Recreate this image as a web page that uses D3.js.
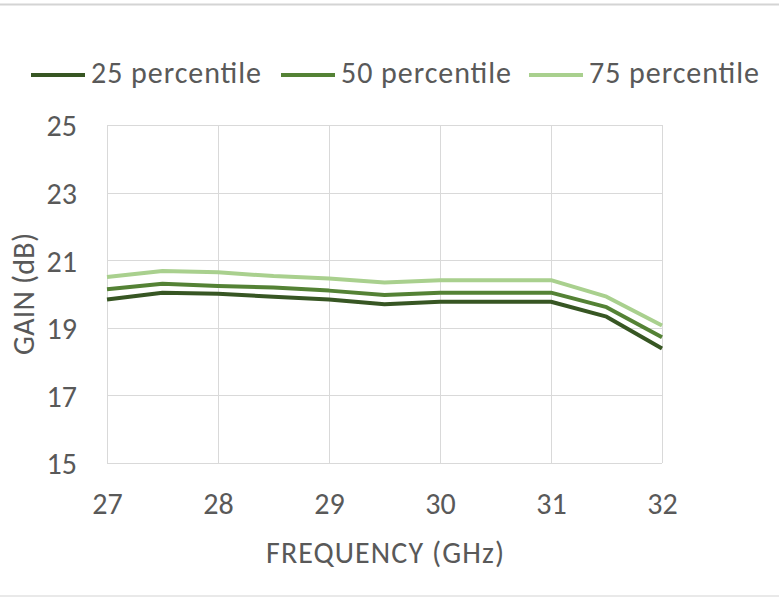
<!DOCTYPE html>
<html><head><meta charset="utf-8">
<script src="https://cdn.jsdelivr.net/npm/d3@7"></script>
<style>body{margin:0;background:#fff}text{font-family:Carlito,Calibri,Lato,sans-serif;fill:#595959}</style>
</head><body><svg id="c" width="779" height="597"></svg>
<script>
const frequencies = [27, 27.5, 28, 28.5, 29, 29.5, 30, 30.5, 31, 31.5, 32];
const p25 = [19.84, 20.04, 20.01, 19.92, 19.84, 19.70, 19.77, 19.77, 19.77, 19.33, 18.39];
const p50 = [20.14, 20.30, 20.24, 20.19, 20.10, 19.97, 20.04, 20.04, 20.04, 19.61, 18.72];
const p75 = [20.50, 20.68, 20.64, 20.53, 20.46, 20.34, 20.41, 20.41, 20.41, 19.92, 19.07];
const seriesNames = ["25 percentile", "50 percentile", "75 percentile"];
const xTicks = [27, 28, 29, 30, 31, 32];
const yTicks = [15, 17, 19, 21, 23, 25];
const colors = ["#375623", "#548235", "#A9D08E"];

const svg = d3.select("#c");
const fs = 30;
const x = d3.scaleLinear().domain([27, 32]).range([107, 662]);
const y = d3.scaleLinear().domain([15, 25]).range([463, 125]);

svg.append("line").attr("x1",0).attr("x2",779).attr("y1",4.5).attr("y2",4.5).attr("stroke","#d4d4d4").attr("stroke-width",2);
svg.append("line").attr("x1",0).attr("x2",779).attr("y1",596).attr("y2",596).attr("stroke","#e2e2e2").attr("stroke-width",1.5);

// gridlines
svg.append("g").selectAll("line").data(yTicks).join("line")
  .attr("x1", x(27)).attr("x2", x(32)).attr("y1", d=>Math.round(y(d))+0.5).attr("y2", d=>Math.round(y(d))+0.5)
  .attr("stroke", "#d9d9d9").attr("stroke-width", 1);
svg.append("g").selectAll("line").data(xTicks).join("line")
  .attr("y1", y(15)).attr("y2", y(25)).attr("x1", d=>Math.round(x(d))+0.5).attr("x2", d=>Math.round(x(d))+0.5)
  .attr("stroke", "#d9d9d9").attr("stroke-width", 1);

// axes labels via d3 axis
const yAxis = svg.append("g").attr("transform", `translate(${x(27)},0)`)
  .call(d3.axisLeft(y).tickValues(yTicks).tickFormat(d3.format("d")).tickSize(0).tickPadding(30));
const xAxis = svg.append("g").attr("transform", `translate(0,${y(15)})`)
  .call(d3.axisBottom(x).tickValues(xTicks).tickFormat(d3.format("d")).tickSize(0).tickPadding(30));
[yAxis, xAxis].forEach(g => {
  g.select(".domain").remove();
  g.selectAll("text").attr("font-size", fs).attr("font-family", "Carlito,Calibri,Lato,sans-serif").style("fill", "#595959");
});
yAxis.selectAll("text").attr("dy", "0.36em");
xAxis.selectAll("text").attr("dy", "0.71em");

// lines
const data = [p25, p50, p75];
const line = d3.line().x((d,i)=>x(frequencies[i])).y(d=>y(d));
svg.append("g").selectAll("path").data(data).join("path")
  .attr("d", line).attr("fill", "none")
  .attr("stroke", (d,i)=>colors[i]).attr("stroke-width", 4)
  .attr("stroke-linejoin", "round");

// axis titles
svg.append("text").attr("x", 385).attr("y", 563).attr("text-anchor", "middle").attr("font-size", fs)
  .attr("textLength", 238).attr("lengthAdjust", "spacing").text("FREQUENCY (GHz)");
svg.append("text").attr("transform", "translate(34,294) rotate(-90)").attr("text-anchor", "middle").attr("font-size", fs)
  .attr("textLength", 122).attr("lengthAdjust", "spacing").text("GAIN (dB)");

// legend
const legX = [31, 281, 529];
const lg = svg.append("g").selectAll("g").data(seriesNames).join("g")
  .attr("transform", (d,i)=>`translate(${legX[i]},75)`);
lg.append("line").attr("x1",0).attr("x2",54).attr("stroke",(d,i)=>colors[i]).attr("stroke-width",4);
lg.append("text").attr("x",60).attr("y",8).attr("font-size",fs)
  .attr("textLength", 170).attr("lengthAdjust", "spacing").text(d=>d);
</script></body></html>
